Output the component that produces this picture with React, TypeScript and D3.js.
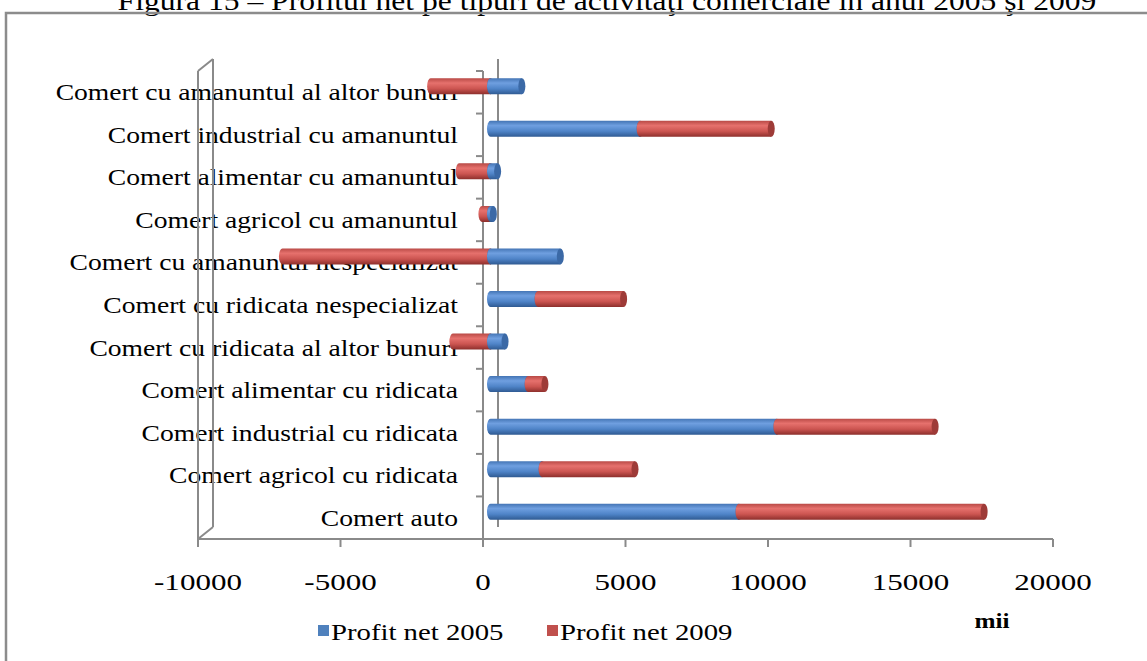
import React from 'react';
import * as d3 from 'd3';

// categories listed top to bottom, as in the picture
const categories = [
  'Comert cu amanuntul al altor bunuri',
  'Comert industrial cu amanuntul',
  'Comert alimentar cu amanuntul',
  'Comert agricol cu amanuntul',
  'Comert cu amanuntul nespecializat',
  'Comert cu ridicata nespecializat',
  'Comert cu ridicata al altor bunuri',
  'Comert alimentar cu ridicata',
  'Comert industrial cu ridicata',
  'Comert agricol cu ridicata',
  'Comert auto',
];
const profit2005 = [1100, 5250, 250, 100, 2450, 1670, 510, 1320, 10050, 1810, 8720];
const profit2009 = [-2100, 4600, -1100, -300, -7300, 3000, -1320, 590, 5550, 3260, 8600];
const xTicks = [-10000, -5000, 0, 5000, 10000, 15000, 20000];
const seriesNames = ['Profit net 2005', 'Profit net 2009'];

const W = 1147;
const H = 661;
const FONT = '"Liberation Serif", "Times New Roman", serif';
const AXIS = '#8a8a8a';

// oblique 3d depth offset (front plane -> back plane)
const DX = 15;
const DY = -12;

type Seg = { cat: string; s: number; x0: number; x1: number; neg: boolean };

export default function App() {
  const x = d3.scaleLinear().domain([-10000, 20000]).range([198, 1053]);
  const y = d3.scaleBand<string>().domain(categories).range([71, 539]);
  const bandH = y.bandwidth();
  const barH = 16;
  const rx = 3.5;

  // bars sit at mid depth
  const bx = (v: number) => x(v) + DX / 2;
  const byc = (c: string) => (y(c) as number) + bandH / 2 + DY / 2;

  // stack: positives go right from 0, negatives go left from 0
  const segs: Seg[] = [];
  categories.forEach((c, i) => {
    let pos = 0;
    let neg = 0;
    [profit2005[i], profit2009[i]].forEach((v, s) => {
      if (v >= 0) {
        segs.push({ cat: c, s, x0: pos, x1: pos + v, neg: false });
        pos += v;
      } else {
        segs.push({ cat: c, s, x0: neg, x1: neg + v, neg: true });
        neg += v;
      }
    });
  });

  const floorY = y.range()[1];
  const topY = y.range()[0];
  const x0 = x(0);
  const xMin = x(-10000);

  const cylinder = (sg: Seg, k: number) => {
    const cy = byc(sg.cat);
    const a = bx(Math.min(sg.x0, sg.x1));
    const b = bx(Math.max(sg.x0, sg.x1));
    const t = cy - barH / 2;
    const fill = sg.s === 0 ? 'url(#gBlue)' : 'url(#gRed)';
    const cap = sg.s === 0 ? '#3b69a6' : '#9e3b38';
    const d = `M${a},${t} L${b},${t} L${b},${t + barH} L${a},${t + barH} A${rx},${barH / 2} 0 0 1 ${a},${t} Z`;
    return (
      <g key={k}>
        <path d={d} fill={fill} />
        <ellipse cx={b} cy={cy} rx={rx} ry={barH / 2} fill={cap} />
      </g>
    );
  };

  // draw order: bottom rows first; in each row negative parts, then positive parts left to right
  const ordered = [...segs].sort((p, q) => {
    const ip = categories.indexOf(p.cat);
    const iq = categories.indexOf(q.cat);
    if (ip !== iq) return iq - ip;
    if (p.neg !== q.neg) return p.neg ? -1 : 1;
    return p.s - q.s;
  });

  return (
    <svg width={W} height={H} style={{ position: 'absolute', left: 0, top: 0, background: '#fff' }}>
      <defs>
        <linearGradient id="gBlue" x1="0" y1="0" x2="0" y2="1">
          <stop offset="0" stopColor="#4475b5" />
          <stop offset="0.3" stopColor="#6f9fe0" />
          <stop offset="0.65" stopColor="#4f84c8" />
          <stop offset="1" stopColor="#2f5a92" />
        </linearGradient>
        <linearGradient id="gRed" x1="0" y1="0" x2="0" y2="1">
          <stop offset="0" stopColor="#b94a46" />
          <stop offset="0.3" stopColor="#e6716d" />
          <stop offset="0.65" stopColor="#cc5551" />
          <stop offset="1" stopColor="#8d2f2c" />
        </linearGradient>
      </defs>

      {/* title, cut at the top edge as in the source */}
      <text
        x={0}
        y={0}
        transform={`translate(607,10) scale(1.17,1)`}
        textAnchor="middle"
        fontFamily={FONT}
        fontSize={27}
        fill="#000"
      >
        Figura 15 – Profitul net pe tipuri de activităţi comerciale în anul 2005 şi 2009
      </text>

      {/* outer frame */}
      <rect x={6} y={13} width={W + 20} height={H + 20} fill="none" stroke="#8c8c8c" strokeWidth={2.5} />

      {/* category labels (behind walls and bars) */}
      {categories.map(c => (
        <text
          key={c}
          transform={`translate(458,${(y(c) as number) + bandH / 2 + 8}) scale(1.15,1)`}
          textAnchor="end"
          fontFamily={FONT}
          fontSize={24}
          fill="#000"
        >
          {c}
        </text>
      ))}

      {/* walls and axes */}
      <g stroke={AXIS} strokeWidth={2} fill="none">
        <line x1={xMin} y1={topY} x2={xMin} y2={floorY + 8} />
        <line x1={xMin + DX} y1={topY + DY} x2={xMin + DX} y2={floorY + DY} />
        <line x1={xMin} y1={topY} x2={xMin + DX} y2={topY + DY} />
        <line x1={xMin} y1={floorY} x2={xMin + DX} y2={floorY + DY} />
        {/* back line at zero */}
        <line x1={x0 + DX} y1={topY + DY} x2={x0 + DX} y2={floorY + DY} />
        {/* floor front edge */}
        <line x1={xMin} y1={floorY} x2={x(20000)} y2={floorY} />
        {xTicks.map(t => (
          <line key={t} x1={x(t)} y1={floorY} x2={x(t)} y2={floorY + 8} />
        ))}
        {/* category axis at zero */}
        <line x1={x0} y1={topY} x2={x0} y2={floorY + 8} />
        {categories.map(c => (
          <line key={c} x1={x0 - 7} y1={y(c) as number} x2={x0} y2={y(c) as number} />
        ))}
      </g>

      {/* bars */}
      {ordered.map((sg, k) => cylinder(sg, k))}

      {/* value tick labels */}
      {xTicks.map(t => (
        <text
          key={t}
          transform={`translate(${x(t)},590) scale(1.35,1)`}
          textAnchor="middle"
          fontFamily={FONT}
          fontSize={23}
          fill="#000"
        >
          {t}
        </text>
      ))}

      {/* unit */}
      <text
        transform="translate(992,628) scale(1.15,1)"
        textAnchor="middle"
        fontFamily={FONT}
        fontSize={22}
        fontWeight="bold"
        fill="#000"
      >
        mii
      </text>

      {/* legend */}
      {seriesNames.map((n, i) => {
        const lx = i === 0 ? 318 : 547;
        return (
          <g key={n}>
            <rect x={lx} y={625} width={11} height={11} fill={i === 0 ? '#4f81bd' : '#c0504d'} />
            <text
              transform={`translate(${lx + 13},640) scale(1.25,1)`}
              fontFamily={FONT}
              fontSize={23}
              fill="#000"
            >
              {n}
            </text>
          </g>
        );
      })}
    </svg>
  );
}
